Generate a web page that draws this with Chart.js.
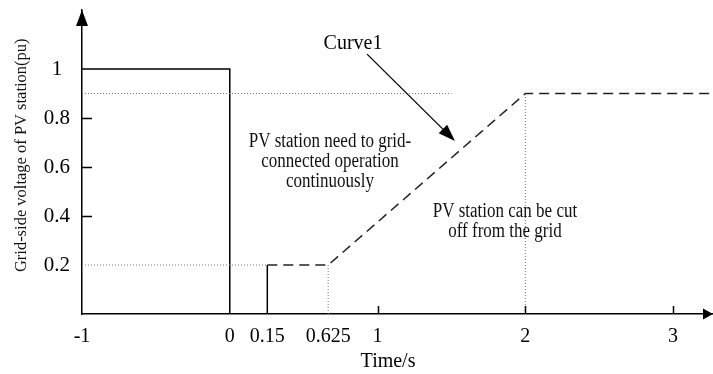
<!DOCTYPE html>
<html><head><meta charset="utf-8">
<script src="https://cdn.jsdelivr.net/npm/chart.js@4.4.0/dist/chart.umd.min.js"></script>
<style>html,body{margin:0;padding:0;background:#fff;} #wrap{width:713px;height:374px;position:relative;}</style>
</head><body><div id="wrap"><canvas id="c"></canvas></div>
<script>
// ---- data ----
const xTickValues = [-1, 0, 0.15, 0.625, 1, 2, 3];
const xTickLabels = ['-1', '0', '0.15', '0.625', '1', '2', '3'];
const yTickValues = [0.2, 0.4, 0.6, 0.8, 1];
const yTickLabels = ['0.2', '0.4', '0.6', '0.8', '1'];
const solidX = [-1, 0, 0, 0.15, 0.15];
const solidY = [1, 1, 0, 0, 0.2];
const curve1X = [0.15, 0.625, 2, 3.27];
const curve1Y = [0.2, 0.2, 0.9, 0.9];
const ref09X = [-1, 1.5];
const ref09Y = [0.9, 0.9];
const ref02X = [-1, 0.15];
const ref02Y = [0.2, 0.2];
const ref0625X = [0.625, 0.625];
const ref0625Y = [0, 0.2];
const ref2X = [2, 2];
const ref2Y = [0, 0.9];
const curveLabel = 'Curve1';
const note1Lines = ['PV station need to grid-', 'connected operation', 'continuously'];
const note2Lines = ['PV station can be cut', 'off from the grid'];
const xTitle = 'Time/s';
const yTitle = 'Grid-side voltage of PV station(pu)';

// ---- schematic (piecewise) x scale ----
const xBreakTrue = [-1, 0, 0.15, 0.625, 1, 3.27];
const xBreakVisual = [-1, 0, 0.254, 0.666, 1, 3.27];
function interp(v, from, to) {
  for (let i = 0; i < from.length - 1; i++) {
    if (v <= from[i + 1] || i === from.length - 2) {
      const t = (v - from[i]) / (from[i + 1] - from[i]);
      return to[i] + t * (to[i + 1] - to[i]);
    }
  }
  return v;
}
class PiecewiseScale extends Chart.LinearScale {
  static id = 'piecewise';
  static defaults = Chart.LinearScale.defaults;
  getPixelForValue(v) {
    if (v === null || v === undefined) return NaN;
    return super.getPixelForValue(interp(v, xBreakTrue, xBreakVisual));
  }
  getValueForPixel(p) { return interp(super.getValueForPixel(p), xBreakVisual, xBreakTrue); }
  pixelForVisual(u) { return super.getPixelForValue(u); }
}
Chart.register(PiecewiseScale);

const pts = (xs, ys) => xs.map((x, i) => ({x, y: ys[i]}));
const SERIF = "'Liberation Serif', 'Times New Roman', serif";
const dotted = {borderColor: '#777', borderWidth: 1, borderDash: [1, 2], pointRadius: 0, fill: false, tension: 0};

function stretchedText(ctx, text, x, y, sy) {
  ctx.save(); ctx.translate(x, y); ctx.scale(1, sy); ctx.fillText(text, 0, 0); ctx.restore();
}

const decor = {
  id: 'decor',
  afterDraw(chart) {
    const {ctx, chartArea: a, scales: {x, y}} = chart;
    const px = u => x.pixelForVisual(u);
    const py = v => y.getPixelForValue(v);
    ctx.save();
    ctx.fillStyle = '#000'; ctx.strokeStyle = '#000'; ctx.lineWidth = 1.5;
    // axis arrowheads
    ctx.beginPath(); ctx.moveTo(a.left, a.top); ctx.lineTo(a.left - 6, a.top + 16); ctx.lineTo(a.left + 6, a.top + 16); ctx.closePath(); ctx.fill();
    ctx.beginPath(); ctx.moveTo(a.right, a.bottom); ctx.lineTo(a.right - 10, a.bottom - 5.5); ctx.lineTo(a.right - 10, a.bottom + 5.5); ctx.closePath(); ctx.fill();
    // inner ticks
    ctx.beginPath();
    [0.4, 0.6, 0.8].forEach(v => { const yy = Math.round(py(v)) + 0.5; ctx.moveTo(a.left, yy); ctx.lineTo(a.left + 10, yy); });
    [1, 2, 3].forEach(v => { const xx = Math.round(x.getPixelForValue(v)) + 0.5; ctx.moveTo(xx, a.bottom); ctx.lineTo(xx, a.bottom - 8); });
    ctx.stroke();
    // Curve1 label and pointer arrow
    ctx.textAlign = 'center'; ctx.textBaseline = 'middle';
    ctx.font = '20px ' + SERIF;
    ctx.fillText(curveLabel, px(0.834), py(1.104));
    const sx = px(0.929), sy = py(1.061), tx = px(1.524), ty = py(0.706);
    const ang = Math.atan2(ty - sy, tx - sx), L = 17, W = 6;
    const bx = tx - L * Math.cos(ang), by = ty - L * Math.sin(ang);
    ctx.lineWidth = 1.3;
    ctx.beginPath(); ctx.moveTo(sx, sy); ctx.lineTo(bx, by); ctx.stroke();
    ctx.beginPath(); ctx.moveTo(tx, ty);
    ctx.lineTo(bx + W * Math.sin(ang), by - W * Math.cos(ang));
    ctx.lineTo(bx - W * Math.sin(ang), by + W * Math.cos(ang));
    ctx.closePath(); ctx.fill();
    // region notes (baselines)
    ctx.textBaseline = 'alphabetic';
    ctx.font = '17px ' + SERIF; ctx.fillStyle = '#111';
    const n1y = [0.683, 0.601, 0.520];
    note1Lines.forEach((t, i) => stretchedText(ctx, t, px(0.678), py(n1y[i]), 1.22));
    const n2y = [0.397, 0.314];
    note2Lines.forEach((t, i) => stretchedText(ctx, t, px(1.862), py(n2y[i]), 1.22));
    // axis titles
    ctx.textBaseline = 'middle';
    ctx.fillStyle = '#000'; ctx.font = '20px ' + SERIF;
    ctx.fillText(xTitle, px(1.071), py(-0.196));
    ctx.save();
    ctx.translate(22, py(0.648)); ctx.rotate(-Math.PI / 2);
    ctx.font = '16.5px ' + SERIF; ctx.fillStyle = '#111';
    ctx.fillText(yTitle, 0, 0);
    ctx.restore();
    ctx.restore();
  }
};

new Chart(document.getElementById('c'), {
  type: 'line',
  data: {
    datasets: [
      Object.assign({data: pts(ref09X, ref09Y)}, dotted),
      Object.assign({data: pts(ref02X, ref02Y)}, dotted),
      Object.assign({data: pts(ref0625X, ref0625Y)}, dotted),
      Object.assign({data: pts(ref2X, ref2Y)}, dotted),
      {data: pts(solidX, solidY), borderColor: '#000', borderWidth: 1.5, pointRadius: 0, fill: false, tension: 0},
      {label: curveLabel, data: pts(curve1X, curve1Y), borderColor: '#222', borderWidth: 1.5, borderDash: [10, 6], pointRadius: 0, fill: false, tension: 0}
    ]
  },
  options: {
    responsive: true, maintainAspectRatio: false, animation: false,
    layout: {padding: {top: 10, right: 0, left: 0, bottom: 0}},
    plugins: {legend: {display: false}, tooltip: {enabled: false}, title: {display: false}},
    scales: {
      x: {
        type: 'piecewise', min: -1, max: 3.27,
        grid: {display: false, drawTicks: false},
        border: {display: true, color: '#000', width: 1.5},
        afterBuildTicks: s => { s.ticks = xTickValues.map(v => ({value: v})); },
        afterFit: s => { s.height = 60; s.paddingLeft = 0; s.paddingRight = 0; },
        ticks: {autoSkip: false, maxRotation: 0, padding: 11, color: '#000',
          font: {family: SERIF, size: 20},
          callback: (v, i) => xTickLabels[i]}
      },
      y: {
        type: 'linear', min: 0, max: 1.241,
        grid: {display: false, drawTicks: false},
        border: {display: true, color: '#000', width: 1.5},
        afterBuildTicks: s => { s.ticks = yTickValues.map(v => ({value: v})); },
        afterFit: s => { s.width = 82; s.paddingTop = 0; s.paddingBottom = 0; },
        ticks: {padding: 12, crossAlign: 'center', color: '#000',
          font: {family: SERIF, size: 21},
          callback: (v, i) => yTickLabels[i]}
      }
    }
  },
  plugins: [decor]
});
</script></body></html>
